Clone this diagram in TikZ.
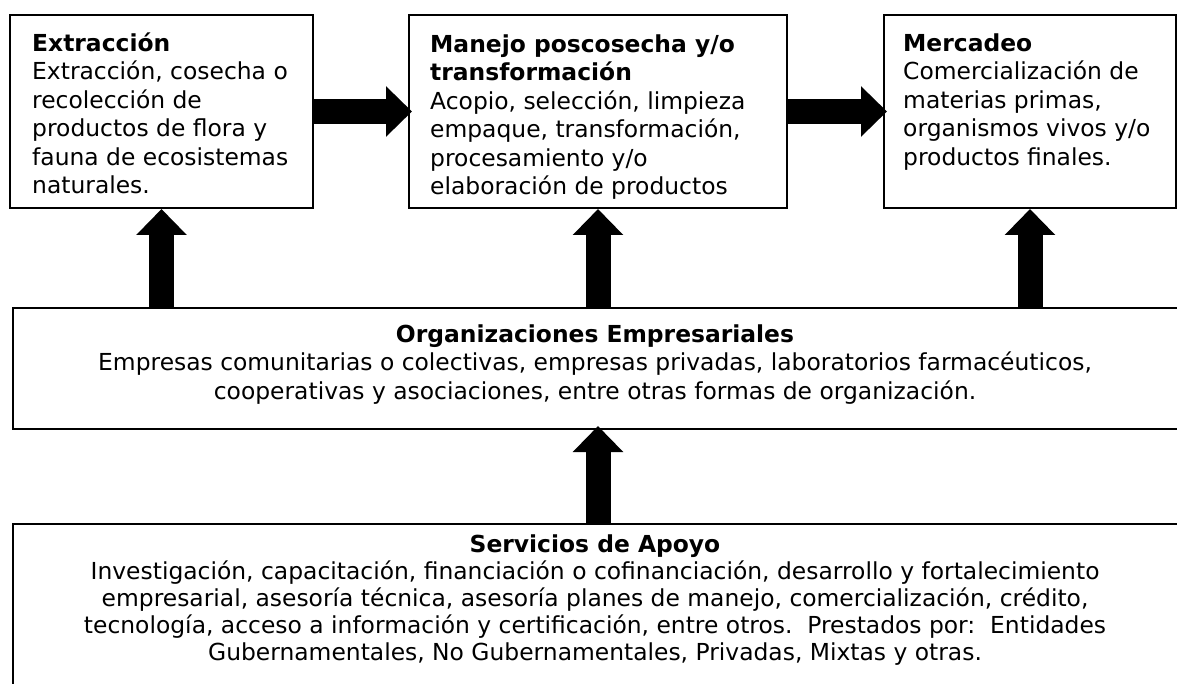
\documentclass[tikz,border=0pt]{standalone}
\usepackage{fontspec}
\setmainfont{DejaVu Sans}
\usetikzlibrary{arrows.meta}
\newcommand\boxfont{\fontsize{23.4}{28.5}\selectfont}
\newcommand\servfont{\fontsize{23.4}{27}\selectfont}
\tikzset{
  box/.style={draw, line width=2pt, inner sep=0pt, anchor=north west},
  txt/.style={anchor=north west, align=left, inner sep=0pt, font=\boxfont},
  ctxt/.style={anchor=north, align=center, inner sep=0pt, font=\boxfont},
  fat/.style={line width=25pt, -{Triangle[width=49pt,length=26pt]}},
}
\begin{document}
\begin{tikzpicture}[x=1pt,y=-1pt]
\useasboundingbox (0,0) rectangle (1177,684);
\clip (0,0) rectangle (1177,684);

\node[box, minimum width=303pt, minimum height=193pt] (ext) at (9,14) {};
\node[box, minimum width=378pt, minimum height=193pt] (man) at (408,14) {};
\node[box, minimum width=292pt, minimum height=193pt] (mer) at (883,14) {};
\node[box, minimum width=1200pt, minimum height=121pt] (org) at (12,307) {};
\node[box, minimum width=1200pt, minimum height=200pt] (serv) at (12,523) {};

\node[txt] (extT) at (32,31) {\strut\textbf{Extracción}\\Extracción, cosecha o\\recolección de\\productos de flora y\\fauna de ecosistemas\\naturales.};
\begin{scope}
\clip (man.north west) rectangle ([yshift=10pt]man.south east);
\node[txt] (manT) at (430,32) {\strut\textbf{Manejo poscosecha y/o}\\\textbf{transformación}\\Acopio, selección, limpieza\\empaque, transformación,\\procesamiento y/o\\elaboración de productos};
\end{scope}
\node[txt] (merT) at (903,31) {\strut\textbf{Mercadeo}\\Comercialización de\\materias primas,\\organismos vivos y/o\\productos finales.};

\node[ctxt] (orgT) at (595,322) {\strut\textbf{Organizaciones Empresariales}\\Empresas comunitarias o colectivas, empresas privadas, laboratorios farmacéuticos,\\cooperativas y asociaciones, entre otras formas de organización.};
\node[ctxt, font=\servfont] (servT) at (595,533) {\strut\textbf{Servicios de Apoyo}\\Investigación, capacitación, financiación o cofinanciación, desarrollo y fortalecimiento\\empresarial, asesoría técnica, asesoría planes de manejo, comercialización, crédito,\\tecnología, acceso a información y certificación, entre otros.\ \ Prestados por:\ \ Entidades\\Gubernamentales, No Gubernamentales, Privadas, Mixtas y otras.};

\draw[fat] (ext.east) -- ([xshift=4pt]man.west);
\draw[fat] (man.east) -- ([xshift=4pt]mer.west);
\draw[fat] (org.north -| ext.south) -- (ext.south);
\draw[fat] (org.north -| man.south) -- (man.south);
\draw[fat] (org.north -| mer.south) -- (mer.south);
\path (org.south -| man.south) ++(0,-4) coordinate (orgin);
\draw[fat] (serv.north -| man.south) -- (orgin);
\end{tikzpicture}
\end{document}
